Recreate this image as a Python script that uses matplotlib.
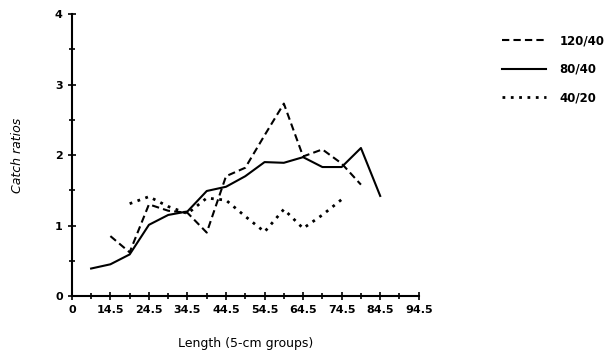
import matplotlib.pyplot as plt
import numpy as np

plt.rcParams['font.family'] = 'DejaVu Sans'
plt.rcParams['font.weight'] = 'bold'

# 5-cm length groups (midpoints)
len_120 = [14.5, 19.5, 24.5, 29.5, 34.5, 39.5, 44.5, 49.5, 54.5, 59.5, 64.5, 69.5, 74.5, 79.5]
ratio_120 = [0.85, 0.62, 1.30, 1.21, 1.18, 0.90, 1.70, 1.82, 2.28, 2.73, 1.98, 2.08, 1.88, 1.58]

len_80 = [9.5, 14.5, 19.5, 24.5, 29.5, 34.5, 39.5, 44.5, 49.5, 54.5, 59.5, 64.5, 69.5, 74.5, 79.5, 84.5]
ratio_80 = [0.39, 0.45, 0.59, 1.01, 1.15, 1.20, 1.49, 1.55, 1.70, 1.90, 1.89, 1.97, 1.83, 1.83, 2.10, 1.42]

len_40 = [19.5, 24.5, 29.5, 34.5, 39.5, 44.5, 49.5, 54.5, 59.5, 64.5, 69.5, 74.5]
ratio_40 = [1.31, 1.41, 1.27, 1.17, 1.39, 1.36, 1.13, 0.91, 1.23, 0.96, 1.15, 1.37]

xticks = [4.5, 14.5, 24.5, 34.5, 44.5, 54.5, 64.5, 74.5, 84.5, 94.5]
xticklabels = ['0', '14.5', '24.5', '34.5', '44.5', '54.5', '64.5', '74.5', '84.5', '94.5']

fig = plt.figure(figsize=(6.14, 3.61), dpi=100)
ax = fig.add_axes([0.117, 0.18, 0.565, 0.781])

ax.plot(len_120, ratio_120, color='black', lw=1.5, linestyle=(0, (3.5, 2)), label='120/40')
ax.plot(len_80, ratio_80, color='black', lw=1.5, linestyle='-', label='80/40')
ax.plot(len_40, ratio_40, color='black', lw=2, linestyle=(0, (1, 2)), label='40/20')

ax.set_xlim(4.5, 94.5)
ax.set_ylim(0, 4)
ax.set_xticks(xticks)
ax.set_xticklabels(xticklabels)
ax.set_xticks(np.arange(9.5, 94.5, 10), minor=True)
ax.set_yticks([0, 1, 2, 3, 4])
ax.set_yticks(np.arange(0.5, 4, 1), minor=True)

for s in ['top', 'right']:
    ax.spines[s].set_visible(False)
for s in ['left', 'bottom']:
    ax.spines[s].set_linewidth(1.5)
ax.tick_params(which='both', direction='inout', width=1.2, labelsize=8)
ax.tick_params(which='major', length=6)
ax.tick_params(which='minor', length=4)
ax.margins(0)

ax.set_xlabel('Length (5-cm groups)', fontsize=9, labelpad=16)
ax.set_ylabel('Catch ratios', fontsize=9, style='italic', labelpad=22)

ax.legend(loc='upper left', bbox_to_anchor=(1.225, 0.945), frameon=False,
          handlelength=3.8, handletextpad=1.1, labelspacing=1.3, fontsize=8.5,
          borderaxespad=0)

fig.savefig('out.png', dpi=100)
